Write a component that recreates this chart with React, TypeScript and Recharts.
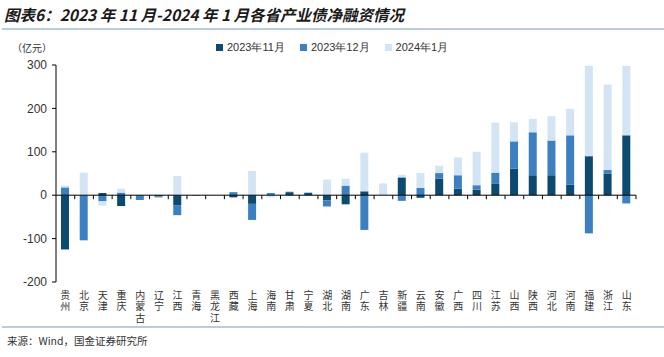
import React from 'react';
import { BarChart, Bar, XAxis, YAxis, ReferenceLine, Legend } from 'recharts';

const categories = ['贵州','北京','天津','重庆','内蒙古','辽宁','江西','青海','黑龙江','西藏','上海','海南','甘肃','宁夏','湖北','湖南','广东','吉林','新疆','云南','安徽','广西','四川','江苏','山西','陕西','河北','河南','福建','浙江','山东'];
const nov2023 = [-125, 0, 5, -25, -1, -3, -24, 0, 0, -5, -20, 0, 7, 5, -12, -21, 9, 0, 41, -6, 38, 15, 13, 26, 61, 46, 46, 24, 90, 50, 138];
const dec2023 = [18, -104, -14, 6, -10, -2, -22, -1, 0, 7, -37, 5, 1, 1, -14, 22, -80, 0, -13, 17, 13, 31, 10, 26, 63, 99, 80, 114, -88, 8, -19];
const jan2024 = [4, 52, -10, 9, 0, 1, 44, 0, 0, 0, 56, -5, 0, -1, 36, 16, 89, 27, 6, 34, 17, 41, 77, 115, 44, 31, 56, 61, 208, 197, 160];
const yTicks = [-200, -100, 0, 100, 200, 300];
const seriesNames = ['2023年11月', '2023年12月', '2024年1月'];

const data = categories.map((c, i) => ({
  name: c,
  nov: nov2023[i],
  dec: dec2023[i],
  jan: jan2024[i],
}));

const CJK = '"Noto Sans CJK SC", "Noto Sans", sans-serif';
const LATIN = '"Liberation Sans", Arial, sans-serif';

const VerticalTick = (props: any) => {
  const { x, y, payload } = props;
  return (
    <text
      x={x}
      y={y + 8}
      fontSize={10}
      fill="#333"
      fontFamily={CJK}
      style={{ writingMode: 'vertical-rl', letterSpacing: 1.5 }}
    >
      {String(payload.value)}
    </text>
  );
};

const ZeroAxis = (props: any) => {
  const { x1, y1, x2, y2 } = props;
  const n = categories.length;
  const ticks = [];
  for (let k = 1; k <= n; k++) {
    const tx = x1 + ((x2 - x1) * k) / n;
    ticks.push(<line key={k} x1={tx} y1={y1} x2={tx} y2={y1 + 4} stroke="#000" strokeWidth={1} />);
  }
  return (
    <g>
      <line x1={x1} y1={y1} x2={x2} y2={y2} stroke="#000" strokeWidth={1} />
      {ticks}
    </g>
  );
};

const LegendContent = (props: any) => {
  const { payload } = props;
  return (
    <div style={{ display: 'flex', alignItems: 'center', fontFamily: LATIN, fontSize: 11, color: '#333', whiteSpace: 'nowrap' }}>
      {(payload || []).map((p: any, i: number) => (
        <div key={i} style={{ display: 'flex', alignItems: 'center', marginRight: 15 }}>
          <span style={{ display: 'inline-block', width: 7, height: 7, background: p.color, marginRight: 4 }} />
          <span>{p.value}</span>
        </div>
      ))}
    </div>
  );
};

export default function App() {
  return (
    <div style={{ position: 'absolute', left: 0, top: 0, width: 664, height: 357, background: '#fff', overflow: 'hidden' }}>
      <div style={{ position: 'absolute', left: 4, top: 3, fontFamily: CJK, fontStyle: 'italic', fontWeight: 700, fontSize: 15.5, color: '#1a1a1a', whiteSpace: 'nowrap' }}>
        图表6：2023 年 11 月-2024 年 1 月各省产业债净融资情况
      </div>
      <div style={{ position: 'absolute', left: 2, top: 28, width: 662, height: 2, background: '#b9cddd' }} />
      <div style={{ position: 'absolute', left: 12, top: 40, fontFamily: CJK, fontSize: 10, color: '#333' }}>（亿元）</div>
      <div style={{ position: 'absolute', left: 0, top: 0 }}>
        <BarChart width={664} height={357} data={data} stackOffset="sign" margin={{ top: 65, right: 28, bottom: 35, left: 0 }}>
          <XAxis dataKey="name" axisLine={false} tickLine={false} tickSize={0} tickMargin={0} height={40} interval={0} tick={<VerticalTick />} />
          <YAxis
            domain={[-200, 300]}
            ticks={yTicks}
            width={56}
            axisLine={{ stroke: '#000' }}
            tickLine={{ stroke: '#000' }}
            tickSize={4}
            tickMargin={5}
            tick={{ fontSize: 12, fill: '#333', fontFamily: LATIN }}
            interval={0}
          />
          <Legend
            verticalAlign="middle"
            align="center"
            layout="horizontal"
            content={<LegendContent />}
            wrapperStyle={{ position: 'absolute', top: 40, left: 216, width: 'auto' }}
          />
          <Bar dataKey="nov" name={seriesNames[0]} stackId="a" fill="#0c4a70" barSize={8} isAnimationActive={false} />
          <Bar dataKey="dec" name={seriesNames[1]} stackId="a" fill="#3d80c2" barSize={8} isAnimationActive={false} />
          <Bar dataKey="jan" name={seriesNames[2]} stackId="a" fill="#d3e5f4" barSize={8} isAnimationActive={false} />
          <ReferenceLine y={0} shape={ZeroAxis} />
        </BarChart>
      </div>
      <div style={{ position: 'absolute', left: 2, top: 326, width: 662, height: 2, background: '#b9cddd' }} />
      <div style={{ position: 'absolute', left: 7, top: 333, fontFamily: CJK, fontSize: 10.5, color: '#333', whiteSpace: 'nowrap' }}>
        来源：Wind，国金证券研究所
      </div>
    </div>
  );
}
